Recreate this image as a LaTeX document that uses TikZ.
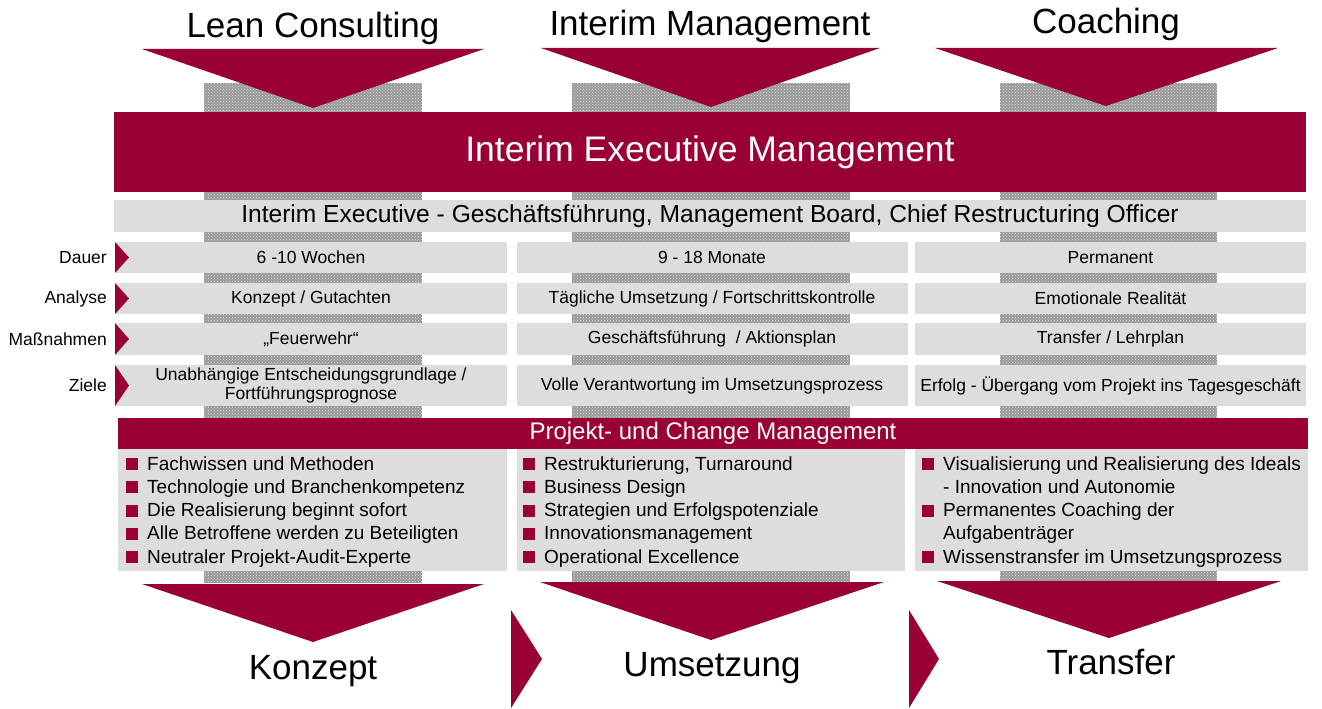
\documentclass[tikz,border=0pt]{standalone}
\usepackage{fontspec}
\setmainfont{Liberation Sans}
\usetikzlibrary{patterns}
\definecolor{wine}{RGB}{153,0,51}
\definecolor{cellgray}{RGB}{221,221,221}
\newcommand\bsq{\textcolor{wine}{\rule{12pt}{12pt}}\hspace{9pt}}
\newcommand\nosq{\hspace*{21pt}}

\begin{document}
\begin{tikzpicture}[x=1pt,y=-1pt,
    big/.style={font=\fontsize{35}{40}\selectfont,inner sep=0},
    bar/.style={fill=wine,text=white,inner sep=0},
    cell/.style={fill=cellgray,inner sep=0,align=center,minimum width=391,font=\fontsize{17.5}{19}\selectfont},
    item/.style={anchor=base west,inner sep=0,font=\fontsize{19}{23}\selectfont},
    stip/.style={fill=black!40,postaction={pattern=crosshatch dots,pattern color=black!12}}]
  \useasboundingbox (0,0) rectangle (1322,709);

  % stippled columns behind everything
  \fill[stip] (204,83) rectangle (422,583);
  \fill[stip] (572,83) rectangle (850,583);
  \fill[stip] (1000,83) rectangle (1217,583);

  \node[big,anchor=base] (lean) at (313,38) {Lean Consulting};
  \node[big,anchor=base] (interim) at (710,36) {Interim Management};
  \node[big,anchor=base] (coach) at (1106,34) {Coaching};
  \fill[wine] (142,49) -- (484,49) -- (313,108) -- cycle;
  \fill[wine] (541,48) -- (880,48) -- (711,107) -- cycle;
  \fill[wine] (935,48) -- (1278,48) -- (1106,106) -- cycle;

  \node[bar,minimum width=1192,minimum height=80,font=\fontsize{35.5}{40}\selectfont] (iem) at (710,152) {Interim Executive Management};
  \node[cell,minimum width=1192,minimum height=32,font=\fontsize{24.6}{28}\selectfont] (exec) at (710,216)
    {Interim Executive - Geschäftsführung, Management Board, Chief Restructuring Officer};

  \node[cell,minimum height=31] (l1) at (311,257.5) {6 -10 Wochen};
  \node[cell,minimum height=31] (m1) at (712,257.5) {9 - 18 Monate};
  \node[cell,minimum height=31] (r1) at (1110.5,257.5) {Permanent};
  \node[cell,minimum height=31] (l2) at (311,298.5) {Konzept / Gutachten};
  \node[cell,minimum height=31] (m2) at (712,298.5) {Tägliche Umsetzung / Fortschrittskontrolle};
  \node[cell,minimum height=31] (r2) at (1110.5,298.5) {Emotionale Realität};
  \node[cell,minimum height=32] (l3) at (311,339) {„Feuerwehr“};
  \node[cell,minimum height=32] (m3) at (712,339) {Geschäftsführung ~/ Aktionsplan};
  \node[cell,minimum height=32] (r3) at (1110.5,339) {Transfer / Lehrplan};
  \node[cell,minimum height=41] (l4) at (311,385.5) {Unabhängige Entscheidungsgrundlage /\\Fortführungsprognose};
  \node[cell,minimum height=41] (m4) at (712,385.5) {Volle Verantwortung im Umsetzungsprozess};
  \node[cell,minimum height=41] (r4) at (1110.5,385.5) {Erfolg - Übergang vom Projekt ins Tagesgeschäft};

  \foreach \lab/\y/\h [count=\i] in {Dauer/257.5/31,Analyse/298.5/31,Maßnahmen/339/32,Ziele/385.5/41}{
    \node[anchor=east,inner sep=0,font=\fontsize{17.5}{19}\selectfont] (lab\i) at (107,\y) {\lab};
    \fill[wine] (115,\y-\h/2) -- (129,\y) -- (115,\y+\h/2) -- cycle;
  }

  \node[bar,minimum width=1190,minimum height=31,font=\fontsize{24}{27}\selectfont] (pcm) at (713,433.5) {Projekt- und Change Management};
  \fill[cellgray] (118,449) rectangle (507,571);
  \fill[cellgray] (517,449) rectangle (905,571);
  \fill[cellgray] (915,449) rectangle (1308,571);

  \foreach \t [count=\i] in {\bsq Fachwissen und Methoden,\bsq Technologie und Branchenkompetenz,
      \bsq Die Realisierung beginnt sofort,\bsq Alle Betroffene werden zu Beteiligten,\bsq Neutraler Projekt-Audit-Experte}
    \node[item] (kl\i) at (126,470+23.3*\i-23.3) {\t};
  \foreach \t [count=\i] in {{\bsq Restrukturierung, Turnaround},\bsq Business Design,
      \bsq Strategien und Erfolgspotenziale,\bsq Innovationsmanagement,\bsq Operational Excellence}
    \node[item] (um\i) at (523,470+23.3*\i-23.3) {\t};
  \foreach \t [count=\i] in {\bsq Visualisierung und Realisierung des Ideals,\nosq - Innovation und Autonomie,
      \bsq Permanentes Coaching der,\nosq Aufgabenträger,\bsq Wissenstransfer im Umsetzungsprozess}
    \node[item] (tr\i) at (922,470+23.3*\i-23.3) {\t};

  \fill[wine] (142,584) -- (484,584) -- (313,642) -- cycle;
  \fill[wine] (540,582) -- (884,582) -- (711,640) -- cycle;
  \fill[wine] (937,581) -- (1281,581) -- (1109,638) -- cycle;
  \fill[wine] (511,610) -- (542,659) -- (511,708) -- cycle;
  \fill[wine] (909,610) -- (939,659) -- (909,708) -- cycle;
  \node[big,anchor=base] (konzept) at (313,679) {Konzept};
  \node[big,anchor=base] (umsetzung) at (712,676) {Umsetzung};
  \node[big,anchor=base] (transfer) at (1111,674) {Transfer};
\end{tikzpicture}
\end{document}
